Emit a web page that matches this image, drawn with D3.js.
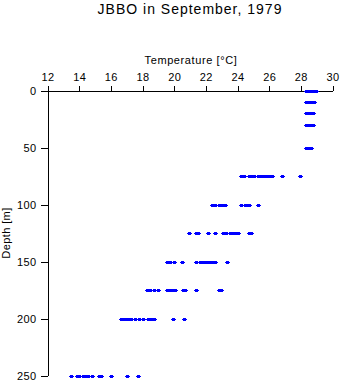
<!DOCTYPE html>
<html><head><meta charset="utf-8">
<script src="https://cdn.jsdelivr.net/npm/d3@7"></script>
<style>
body{margin:0;background:#fff;}
svg{display:block;font-family:"Liberation Sans",Arial,sans-serif;}
</style></head>
<body>
<script>
// Data: temperature readings (°C) at each depth (m)
const depths = [0, 10, 20, 30, 50, 75, 100, 125, 150, 175, 200, 250];
const temps0   = [28.35, 28.45, 28.55, 28.65, 28.75, 28.85, 28.95];
const temps10  = [28.35, 28.45, 28.55, 28.65, 28.75, 28.8];
const temps20  = [28.35, 28.45, 28.55, 28.65, 28.75];
const temps30  = [28.35, 28.45, 28.55, 28.65, 28.75];
const temps50  = [28.35, 28.45, 28.55, 28.65];
const temps75  = [24.25, 24.4, 24.7, 24.85, 25.05, 25.3, 25.45, 25.6, 25.75, 25.9, 26.05, 26.2, 26.8, 27.95];
const temps100 = [22.4, 22.6, 22.85, 23.0, 23.2, 24.2, 24.5, 24.6, 24.75, 25.3];
const temps125 = [20.95, 21.4, 21.5, 22.15, 22.6, 23.1, 23.2, 23.3, 23.5, 23.6, 23.75, 23.9, 24.05, 24.75, 24.85];
const temps150 = [19.55, 19.75, 20.0, 20.5, 21.4, 21.65, 21.8, 21.95, 22.1, 22.25, 22.4, 22.55, 23.35];
const temps175 = [18.3, 18.5, 18.7, 19.0, 19.55, 19.75, 19.9, 20.05, 20.55, 20.7, 21.4, 22.8, 22.95];
const temps200 = [16.65, 16.8, 16.95, 17.1, 17.25, 17.5, 17.8, 18.05, 18.35, 18.5, 18.65, 18.75, 19.9, 20.6];
const temps250 = [13.5, 13.85, 14.0, 14.25, 14.4, 14.55, 14.8, 15.25, 15.4, 16.0, 17.0, 17.7];
const tempsByDepth = [temps0, temps10, temps20, temps30, temps50, temps75, temps100, temps125, temps150, temps175, temps200, temps250];
const xTicks = [12, 14, 16, 18, 20, 22, 24, 26, 28, 30];
const yTicks = [0, 50, 100, 150, 200, 250];

const points = [];
depths.forEach((d, i) => tempsByDepth[i].forEach(t => points.push({depth: d, temp: t})));

const W = 341, H = 384;
const svg = d3.select("body").append("svg").attr("width", W).attr("height", H);

const x = d3.scaleLinear().domain([12, 30]).range([47.5, 332.5]);
const y = d3.scaleLinear().domain([0, 250]).range([90.5, 375.5]);

svg.append("text").attr("x", 190).attr("y", 13.5).attr("text-anchor", "middle")
  .attr("font-size", 14).attr("letter-spacing", "1px").text("JBBO in September, 1979");

const xa = svg.append("g").attr("transform", "translate(0,90.5)")
  .call(d3.axisTop(x).tickValues(xTicks).tickSize(5).tickSizeOuter(0).tickPadding(5).tickFormat(d3.format("d")));
const ya = svg.append("g").attr("transform", "translate(47.5,0)")
  .call(d3.axisLeft(y).tickValues(yTicks).tickSize(7).tickSizeOuter(0).tickPadding(4).tickFormat(d3.format("d")));
[xa, ya].forEach(a => {
  a.selectAll("path,line").attr("stroke", "#000").attr("shape-rendering", "crispEdges");
  a.selectAll("text").attr("font-size", 11).attr("fill", "#000").attr("letter-spacing", "0.4px")
    .attr("font-family", "'Liberation Sans',Arial,sans-serif");
});
ya.selectAll("text").attr("dy", "0.35em");

svg.append("text").attr("x", 191).attr("y", 64).attr("text-anchor", "middle")
  .attr("font-size", 11).attr("letter-spacing", "0.6px").text("Temperature [°C]");
svg.append("text").attr("transform", `translate(10,${(y(0) + y(250)) / 2}) rotate(-90)`)
  .attr("text-anchor", "middle").attr("font-size", 11).attr("letter-spacing", "0.4px").text("Depth [m]");

svg.append("g").selectAll("path").data(points).join("path")
  .attr("transform", d => `translate(${Math.round(x(d.temp))},${Math.round(y(d.depth))})`)
  .attr("d", "M-2.5,-0.5h5v1h-5z M-1.5,-1.5h3v3h-3z")
  .attr("fill", "#0000ff").attr("shape-rendering", "crispEdges");
</script>
</body></html>
